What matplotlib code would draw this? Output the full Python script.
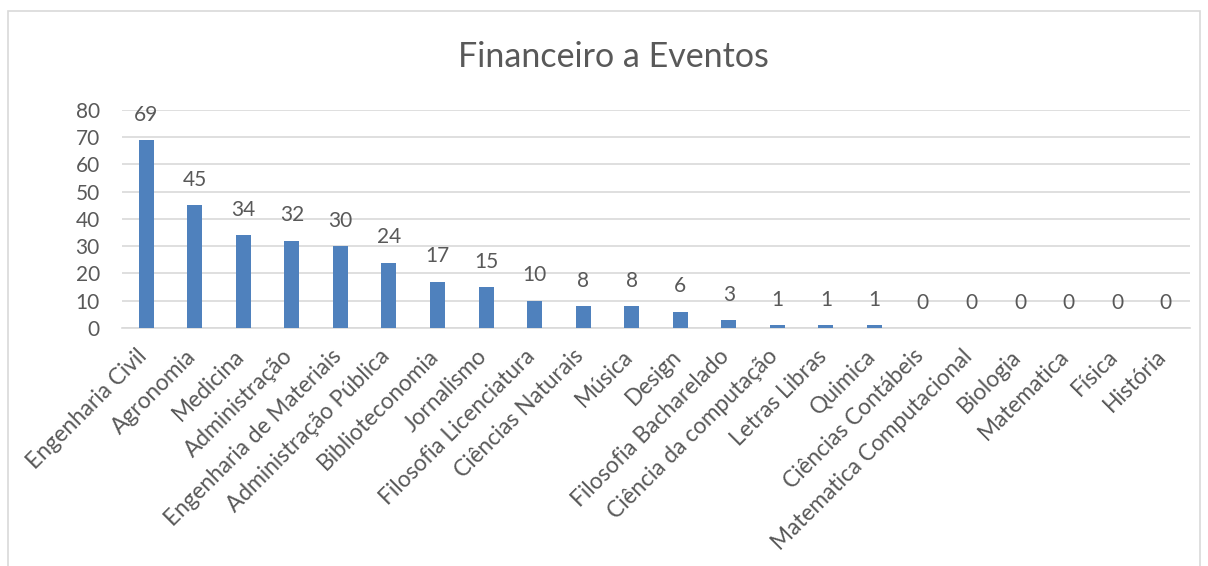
import matplotlib.pyplot as plt
from matplotlib.patches import Rectangle
from matplotlib.transforms import ScaledTranslation

cursos = ['Engenharia Civil', 'Agronomia', 'Medicina', 'Administração',
          'Engenharia de Materiais', 'Administração Pública', 'Biblioteconomia',
          'Jornalismo', 'Filosofia Licenciatura', 'Ciências Naturais', 'Música',
          'Design', 'Filosofia Bacharelado', 'Ciência da computação',
          'Letras Libras', 'Quimica', 'Ciências Contábeis',
          'Matematica Computacional', 'Biologia', 'Matematica', 'Física',
          'História']
valores = [69, 45, 34, 32, 30, 24, 17, 15, 10, 8, 8, 6, 3, 1, 1, 1, 0, 0, 0, 0, 0, 0]
yticks = [0, 10, 20, 30, 40, 50, 60, 70, 80]

plt.rcParams['font.family'] = ['Lato', 'DejaVu Sans']
cinza = '#595959'

fig = plt.figure(figsize=(12.08, 5.66), dpi=100)
# borda do gráfico (estilo Excel)
fig.patches.append(Rectangle((8 / 1208, -0.01), 1192 / 1208, 1 - 11 / 566 + 0.01,
                             transform=fig.transFigure, fill=False,
                             edgecolor='#d9d9d9', linewidth=1.2))

ax = fig.add_axes([0.101, 0.4205, 0.884, 0.3855])
x = range(len(cursos))
ax.bar(x, valores, width=0.31, color='#4f81bd', zorder=3)

for xi, v in zip(x, valores):
    ax.annotate(str(v), (xi, v), xytext=(0, 11), textcoords='offset points',
                ha='center', va='bottom', fontsize=15, color=cinza)

ax.set_xlim(-0.5, len(cursos) - 0.5)
ax.set_ylim(0, 80)
ax.set_yticks(yticks)
ax.yaxis.grid(True, color='#d9d9d9', linewidth=1.2, zorder=0)
ax.set_axisbelow(True)
for s in ['top', 'right', 'left']:
    ax.spines[s].set_visible(False)
ax.spines['bottom'].set_color('#d9d9d9')
ax.spines['bottom'].set_linewidth(1.2)
ax.tick_params(axis='both', length=0, colors=cinza, labelsize=15)
ax.tick_params(axis='x', labelsize=16.3, pad=9)
ax.tick_params(axis='y', pad=16)
ax.set_xticks(list(x))
ax.set_xticklabels(cursos, rotation=45, ha='right', rotation_mode='anchor')
# desloca os rótulos um pouco para a esquerda/baixo
desloc = ScaledTranslation(-10 / 100, -5 / 100, fig.dpi_scale_trans)
for lbl in ax.get_xticklabels():
    lbl.set_transform(lbl.get_transform() + desloc)

fig.text(0.508, 0.9, 'Financeiro a Eventos', ha='center', va='center',
         fontsize=24.5, color=cinza)

fig.savefig('out.png', dpi=100)
